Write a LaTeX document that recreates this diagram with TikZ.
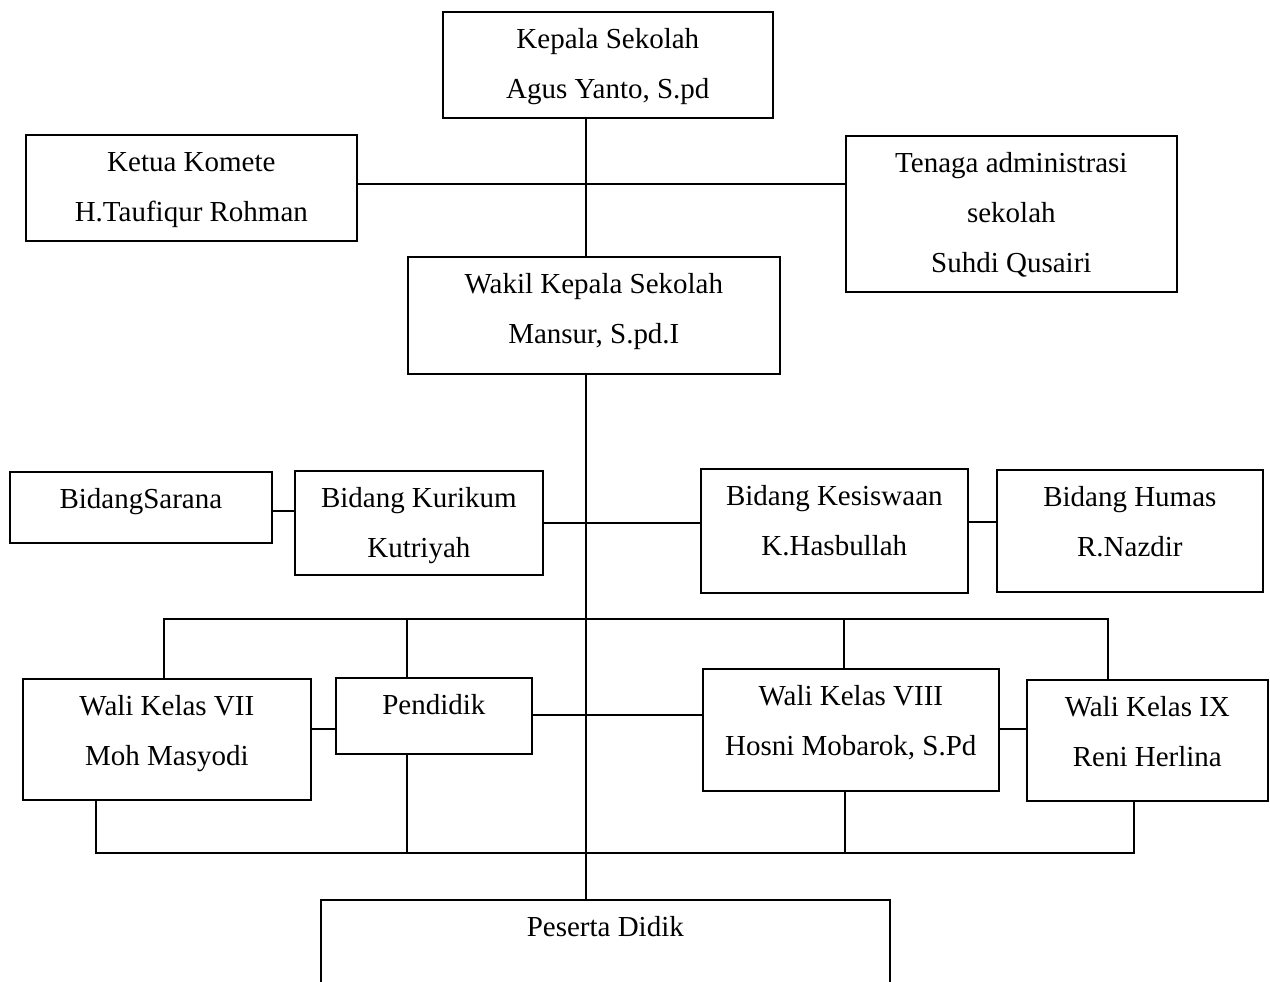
\documentclass[tikz,border=0pt]{standalone}
\usepackage{fontspec}
\setmainfont{Liberation Serif}
\usepackage{tikz}
\usetikzlibrary{positioning,calc}

\begin{document}
\begin{tikzpicture}[
  x=0.02cm, y=-0.02cm,
  kotak/.style 2 args={draw, line width=1pt, inner sep=0pt, anchor=north west,
    font=\fontsize{16.5}{28.5}\selectfont,
    execute at begin node={\begin{minipage}[c][#2][t]{#1}\centering\rule{0pt}{21pt}},
    execute at end node={\end{minipage}}},
  garis/.style={line width=1pt, black},
]
\useasboundingbox (0,0) rectangle (1270,982);
\clip (0,0) rectangle (1270,982);

%% Pimpinan
\node[kotak={6.6cm}{2.12cm}]   (kepala) at (442,11)  {Kepala Sekolah\\Agus Yanto, S.pd};
\node[kotak={6.62cm}{2.12cm}]  (ketua)  at (25,134)  {Ketua Komete\\H.Taufiqur Rohman};
\node[kotak={6.62cm}{3.12cm}]  (tenaga) at (845,135) {Tenaga administrasi\\sekolah\\Suhdi Qusairi};
\node[kotak={7.44cm}{2.34cm}]  (wakil)  at (407,256) {Wakil Kepala Sekolah\\Mansur, S.pd.I};

\coordinate (spine) at (586,0);
\coordinate (komite) at (0,184);

\draw[garis] (kepala.south -| spine) -- (wakil.north -| spine);
\draw[garis] (ketua.east |- komite) -- (tenaga.west |- komite);

%% Bidang
\node[kotak={5.24cm}{1.42cm}]  (sarana)    at (9,471)   {BidangSarana};
\node[kotak={4.96cm}{2.08cm}]  (kurikum)   at (294,470) {Bidang Kurikum\\Kutriyah};
\node[kotak={5.34cm}{2.48cm}]  (kesiswaan) at (700,468) {Bidang Kesiswaan\\K.Hasbullah};
\node[kotak={5.32cm}{2.44cm}]  (humas)     at (996,469) {Bidang Humas\\R.Nazdir};

\draw[garis] (sarana.east |- 0,511) -- (kurikum.west |- 0,511);
\draw[garis] (kurikum.east |- 0,523) -- (kesiswaan.west |- 0,523);
\draw[garis] (kesiswaan.east |- 0,522) -- (humas.west |- 0,522);

%% Wali kelas dan pendidik
\node[kotak={5.76cm}{2.42cm}]  (wk7)      at (22,678)   {Wali Kelas VII\\Moh Masyodi};
\node[kotak={3.92cm}{1.52cm}]  (pendidik) at (335,677)  {Pendidik};
\node[kotak={5.92cm}{2.44cm}]  (wk8)      at (702,668)  {Wali Kelas VIII\\Hosni Mobarok, S.Pd};
\node[kotak={4.82cm}{2.42cm}]  (wk9)      at (1026,679) {Wali Kelas IX\\Reni Herlina};

\draw[garis] (wk7.east |- 0,729) -- (pendidik.west |- 0,729);
\draw[garis] (pendidik.east |- 0,715) -- (wk8.west |- 0,715);
\draw[garis] (wk8.east |- 0,729) -- (wk9.west |- 0,729);

% bus atas
\coordinate (atas) at (0,619);
\draw[garis] (wk7.north -| 164,0) -- (164,619) -- (1108,619) -- (wk9.north -| 1108,0);
\draw[garis] (pendidik.north -| 407,0) -- (407,619);
\draw[garis] (wk8.north -| 844,0) -- (844,619);

% bus bawah
\coordinate (bawah) at (0,853);
\draw[garis] (wk7.south -| 96,0) -- (96,853) -- (1134,853) -- (wk9.south -| 1134,0);
\draw[garis] (pendidik.south -| 407,0) -- (407,853);
\draw[garis] (wk8.south -| 845,0) -- (845,853);

%% Peserta didik
\node[kotak={11.38cm}{2.4cm}]  (peserta) at (320,899) {Peserta Didik};

\draw[garis] (wakil.south -| spine) -- (peserta.north -| spine);

\end{tikzpicture}
\end{document}
